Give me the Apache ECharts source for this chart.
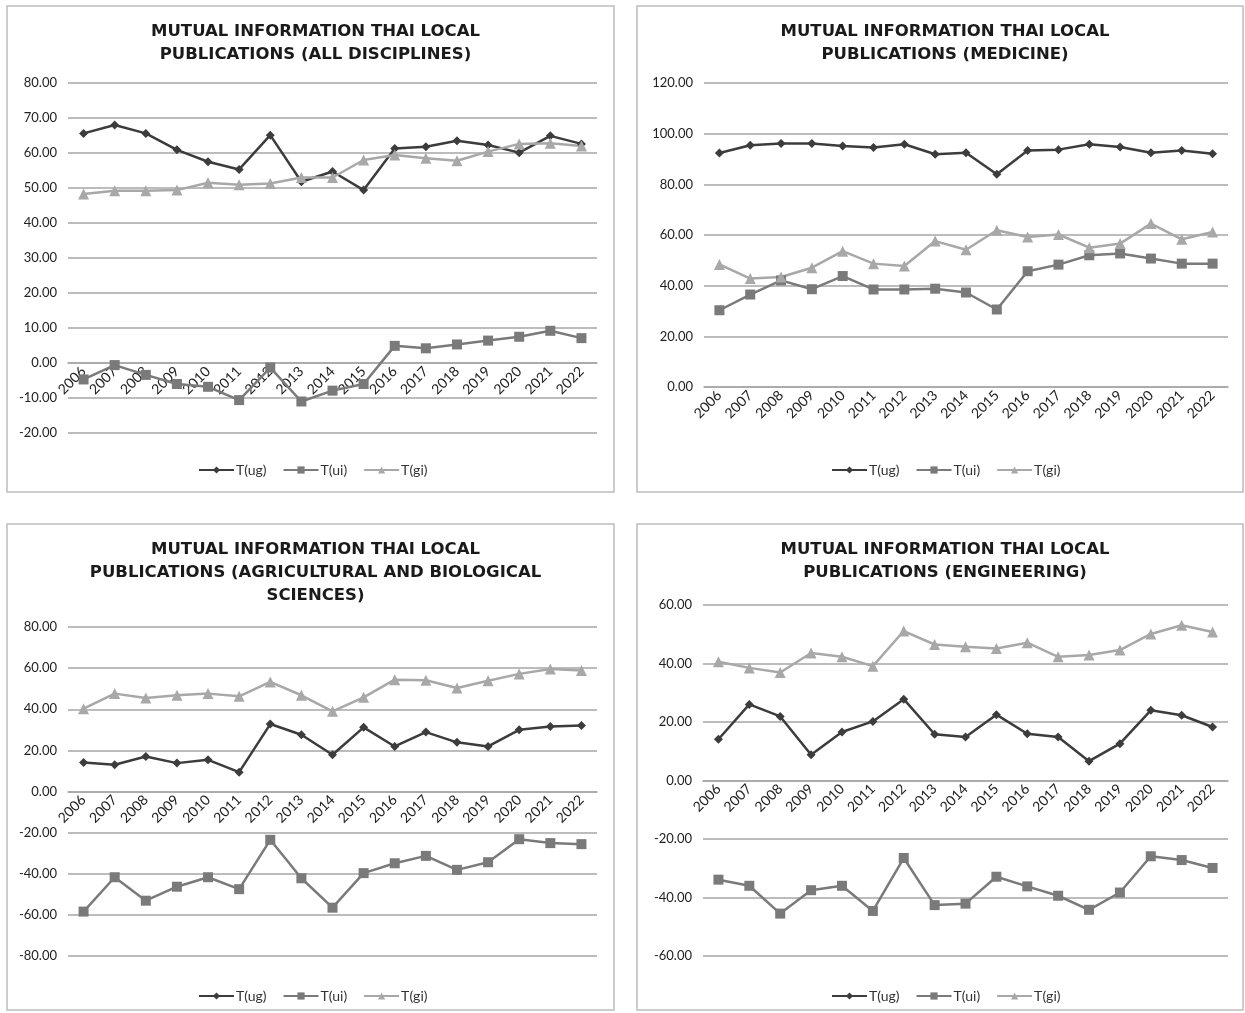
<!DOCTYPE html>
<html>
<head>
<meta charset="utf-8">
<script src="https://cdn.jsdelivr.net/npm/echarts@6/dist/echarts.min.js"></script>
<style>
  html, body { margin: 0; padding: 0; background: #fff; }
  #chart { width: 1245px; height: 1013px; }
</style>
</head>
<body>
<div id="chart"></div>
<script>
// categories
const years = ['2006', '2007', '2008', '2009', '2010', '2011', '2012', '2013', '2014',
  '2015', '2016', '2017', '2018', '2019', '2020', '2021', '2022']
const seriesNames = ['T(ug)', 'T(ui)', 'T(gi)']

// all disciplines
const allUg = [65.6, 68.0, 65.6, 60.9, 57.5, 55.3, 65.1, 51.8, 54.7, 49.4, 61.3, 61.8, 63.5, 62.3, 60.1, 64.9, 62.6]
const allUi = [-4.7, -0.6, -3.4, -6.0, -6.8, -10.6, -1.3, -11.0, -7.9, -6.0, 4.9, 4.2, 5.3, 6.4, 7.5, 9.2, 7.1]
const allGi = [48.3, 49.2, 49.2, 49.4, 51.5, 50.9, 51.3, 53.0, 53.0, 58.0, 59.4, 58.5, 57.8, 60.4, 62.6, 62.8, 62.0]

// medicine
const medUg = [92.4, 95.4, 96.1, 96.1, 95.1, 94.5, 95.8, 91.9, 92.5, 84.0, 93.4, 93.7, 95.8, 94.7, 92.5, 93.4, 92.1]
const medUi = [30.3, 36.5, 42.1, 38.6, 43.8, 38.5, 38.5, 38.8, 37.3, 30.6, 45.7, 48.3, 52.0, 52.7, 50.7, 48.7, 48.7]
const medGi = [48.4, 42.8, 43.4, 47.1, 53.6, 48.7, 47.8, 57.6, 54.2, 61.9, 59.2, 60.2, 55.0, 56.6, 64.5, 58.3, 61.2]

// agricultural and biological sciences
const agrUg = [14.1, 13.0, 17.0, 13.8, 15.4, 9.4, 32.8, 27.6, 17.9, 31.2, 21.9, 28.9, 23.9, 21.9, 30.0, 31.6, 32.1]
const agrUi = [-58.4, -41.7, -53.1, -46.3, -41.7, -47.5, -23.5, -42.2, -56.5, -39.7, -34.9, -31.3, -38.1, -34.4, -23.2, -25.1, -25.6]
const agrGi = [40.3, 47.6, 45.5, 46.8, 47.6, 46.3, 53.3, 46.8, 39.0, 45.8, 54.4, 54.1, 50.3, 53.9, 57.2, 59.6, 58.8]

// engineering
const engUg = [14.1, 26.0, 21.9, 8.8, 16.6, 20.2, 27.8, 15.8, 14.9, 22.5, 16.0, 14.9, 6.6, 12.6, 24.0, 22.3, 18.3]
const engUi = [-33.9, -36.0, -45.5, -37.5, -36.0, -44.6, -26.5, -42.6, -42.1, -32.9, -36.2, -39.4, -44.2, -38.3, -25.9, -27.2, -29.9]
const engGi = [40.6, 38.5, 36.9, 43.6, 42.3, 39.1, 51.1, 46.5, 45.7, 45.1, 47.1, 42.3, 42.9, 44.6, 50.1, 53.1, 50.8]

const colors = ['#3c3c3c', '#7a7a7a', '#a8a8a8']
const symbols = ['diamond', 'rect', 'triangle']
const symbolSizes = [9, 10, 11]
const font = 'Lato, "Open Sans", sans-serif'

const panels = [
  {
    title: 'MUTUAL INFORMATION THAI LOCAL\nPUBLICATIONS (ALL DISCIPLINES)',
    box: [7, 6, 607, 486], grid: { left: 68, top: 83, width: 529, height: 350 },
    min: -20, max: 80, interval: 10, legendLeft: 193, legendTop: 458, data: [allUg, allUi, allGi]
  },
  {
    title: 'MUTUAL INFORMATION THAI LOCAL\nPUBLICATIONS (MEDICINE)',
    box: [637, 6, 606, 486], grid: { left: 704, top: 83, width: 524, height: 304 },
    min: 0, max: 120, interval: 20, legendLeft: 826, legendTop: 458, data: [medUg, medUi, medGi]
  },
  {
    title: 'MUTUAL INFORMATION THAI LOCAL\nPUBLICATIONS (AGRICULTURAL AND BIOLOGICAL\nSCIENCES)',
    box: [7, 524, 607, 486], grid: { left: 68, top: 627, width: 529, height: 329 },
    min: -80, max: 80, interval: 20, legendLeft: 193, legendTop: 984, data: [agrUg, agrUi, agrGi]
  },
  {
    title: 'MUTUAL INFORMATION THAI LOCAL\nPUBLICATIONS (ENGINEERING)',
    box: [637, 524, 606, 486], grid: { left: 703, top: 605, width: 525, height: 351 },
    min: -60, max: 60, interval: 20, legendLeft: 826, legendTop: 984, data: [engUg, engUi, engGi]
  }
]

const option = {
  animation: false,
  backgroundColor: '#fff',
  title: [],
  legend: [],
  grid: [],
  xAxis: [],
  yAxis: [],
  series: [],
  graphic: []
}

panels.forEach((p, i) => {
  const cx = p.box[0] + p.box[2] / 2
  // category axis sits at value 0, like the Excel original
  const zeroShift = -(0 - p.min) / (p.max - p.min) * p.grid.height
  option.graphic.push({
    type: 'rect',
    shape: { x: p.box[0], y: p.box[1], width: p.box[2], height: p.box[3] },
    style: { fill: 'none', stroke: '#bdbdbd', lineWidth: 1.5 },
    silent: true
  })
  option.title.push({
    text: p.title,
    left: cx,
    top: p.box[1] + 9,
    textAlign: 'center',
    textStyle: {
      fontFamily: '"DejaVu Sans", sans-serif', fontSize: 16.5, fontWeight: 'bold',
      color: '#1a1a1a', lineHeight: 23
    }
  })
  option.legend.push({
    data: seriesNames,
    left: p.legendLeft,
    top: p.legendTop,
    itemWidth: 35,
    itemHeight: 9,
    itemGap: 16,
    textStyle: { fontFamily: font, fontSize: 14, color: '#333', padding: [0, 0, 0, -3] }
  })
  option.grid.push(Object.assign({ containLabel: false }, p.grid))
  option.xAxis.push({
    type: 'category',
    gridIndex: i,
    data: years,
    boundaryGap: true,
    position: 'bottom',
    offset: zeroShift,
    z: 1,
    axisLine: { onZero: false, lineStyle: { color: '#a6a6a6', width: 1.5 } },
    axisTick: { show: false },
    axisLabel: { rotate: 45, margin: 6, fontFamily: font, fontSize: 14, color: '#222' }
  })
  option.yAxis.push({
    type: 'value',
    gridIndex: i,
    min: p.min,
    max: p.max,
    interval: p.interval,
    axisLine: { show: false },
    axisTick: { show: false },
    splitLine: { lineStyle: { color: '#a6a6a6', width: 1.5 } },
    axisLabel: {
      margin: 11, fontFamily: font, fontSize: 13, color: '#222',
      formatter: v => v.toFixed(2)
    }
  })
  p.data.forEach((vals, k) => {
    option.series.push({
      name: seriesNames[k],
      type: 'line',
      xAxisIndex: i,
      yAxisIndex: i,
      z: 3,
      data: vals,
      symbol: symbols[k],
      symbolSize: symbolSizes[k],
      showAllSymbol: true,
      color: colors[k],
      lineStyle: { width: 2.5, color: colors[k] },
      itemStyle: { color: colors[k] }
    })
  })
})

const chart = echarts.init(document.getElementById('chart'))
chart.setOption(option)
window.addEventListener('resize', () => chart.resize())
</script>
</body>
</html>
